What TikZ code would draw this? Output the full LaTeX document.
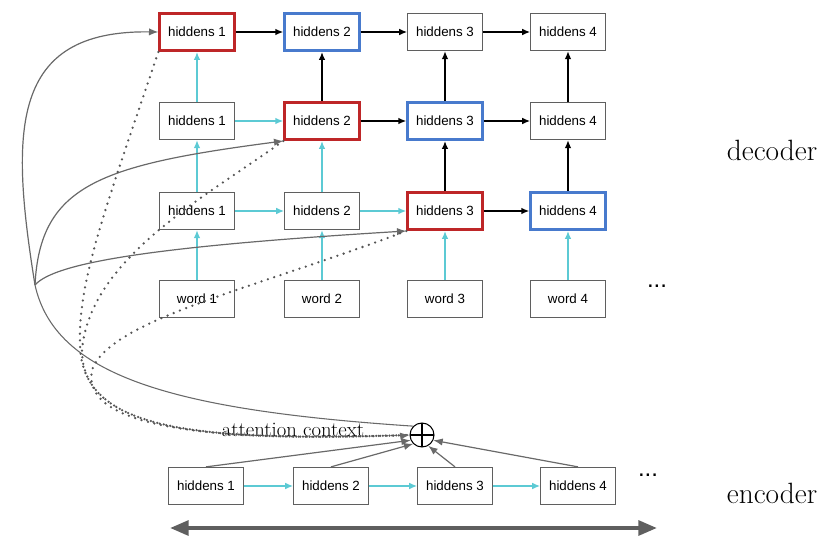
\documentclass[tikz,border=0pt]{standalone}
\usepackage{fontspec}
\setsansfont{Liberation Sans}
\usetikzlibrary{arrows.meta,calc}
\definecolor{RedClr}{RGB}{190,38,40}
\definecolor{BlueClr}{RGB}{72,122,205}
\definecolor{CyanClr}{RGB}{92,202,212}
\definecolor{BoxClr}{RGB}{95,95,95}
\definecolor{LineClr}{RGB}{105,105,105}
\definecolor{DotClr}{RGB}{85,85,85}

\begin{document}
\begin{tikzpicture}[x=0.75pt,y=-0.75pt,
  box/.style={draw=BoxClr,line width=0.7pt,minimum width=56pt,minimum height=28pt,inner sep=0pt,
    font=\sffamily\fontsize{10}{12}\selectfont},
  redbox/.style={box,draw=RedClr,line width=2pt},
  bluebox/.style={box,draw=BlueClr,line width=2pt},
  cyanarr/.style={-{Latex[length=6pt,width=5pt]},CyanClr,line width=1.1pt},
  blackarr/.style={-{Latex[length=6pt,width=5pt]},black,line width=1.1pt},
  grayarr/.style={-{Latex[length=7pt,width=5.5pt]},LineClr,line width=0.9pt},
  dotline/.style={DotClr,line width=1.9pt,line cap=round,dash pattern=on 0pt off 5pt},
  tag/.style={font=\fontsize{22}{24}\selectfont},
  more/.style={font=\sffamily\fontsize{18}{18}\selectfont}]
\useasboundingbox (0,0) rectangle (824,538);

% decoder
\node[redbox]  (hA1) at (197,32) {hiddens 1};
\node[bluebox] (hA2) at (322,32) {hiddens 2};
\node[box]     (hA3) at (445,32) {hiddens 3};
\node[box]     (hA4) at (568,32) {hiddens 4};

\node[box]     (hB1) at (197,121) {hiddens 1};
\node[redbox]  (hB2) at (322,121) {hiddens 2};
\node[bluebox] (hB3) at (445,121) {hiddens 3};
\node[box]     (hB4) at (568,121) {hiddens 4};

\node[box]     (hC1) at (197,211) {hiddens 1};
\node[box]     (hC2) at (322,211) {hiddens 2};
\node[redbox]  (hC3) at (445,211) {hiddens 3};
\node[bluebox] (hC4) at (568,211) {hiddens 4};

\node[box] (w1) at (197,299) {word 1};
\node[box] (w2) at (322,299) {word 2};
\node[box] (w3) at (445,299) {word 3};
\node[box] (w4) at (568,299) {word 4};
\node[more] (wdots) at (657,286) {...};

% encoder
\node[box] (e1) at (206,486) {hiddens 1};
\node[box] (e2) at (331,486) {hiddens 2};
\node[box] (e3) at (455,486) {hiddens 3};
\node[box] (e4) at (578,486) {hiddens 4};
\node[more] (edots) at (648,475) {...};

\node[circle,draw=black,line width=0.8pt,minimum size=18pt,inner sep=0pt,
  path picture={\draw[line width=0.8pt] (path picture bounding box.north) -- (path picture bounding box.south)
    (path picture bounding box.west) -- (path picture bounding box.east);}] (plus) at (422,435) {};

\node[tag] (dec) at (772,150) {decoder};
\node[tag] (enc) at (772,493) {encoder};
\node[font=\fontsize{15.5}{16}\selectfont] (att) at (293,430) {attention context};

% recurrent arrows
\draw[cyanarr] (w1) -- (hC1);
\draw[cyanarr] (w2) -- (hC2);
\draw[cyanarr] (w3) -- (hC3);
\draw[cyanarr] (w4) -- (hC4);
\draw[cyanarr] (hC1) -- (hB1);
\draw[cyanarr] (hB1) -- (hA1);
\draw[cyanarr] (hC2) -- (hB2);
\draw[blackarr] (hB2) -- (hA2);
\draw[blackarr] (hC3) -- (hB3);
\draw[blackarr] (hB3) -- (hA3);
\draw[blackarr] (hC4) -- (hB4);
\draw[blackarr] (hB4) -- (hA4);

\draw[cyanarr] (hC1) -- (hC2);
\draw[cyanarr] (hC2) -- (hC3);
\draw[blackarr] (hC3) -- (hC4);
\draw[cyanarr] (hB1) -- (hB2);
\draw[blackarr] (hB2) -- (hB3);
\draw[blackarr] (hB3) -- (hB4);
\draw[blackarr] (hA1) -- (hA2);
\draw[blackarr] (hA2) -- (hA3);
\draw[blackarr] (hA3) -- (hA4);

\draw[cyanarr] (e1) -- (e2);
\draw[cyanarr] (e2) -- (e3);
\draw[cyanarr] (e3) -- (e4);

% attention
\draw[grayarr] (e1.north) -- (plus.205);
\draw[grayarr] (e2.north) -- (plus.225);
\draw[grayarr] (e3.north) -- (plus.300);
\draw[grayarr] (e4.north) -- (plus.335);

\coordinate (split) at (35,285);
\draw[LineClr,line width=0.8pt] (plus.135) .. controls (170,410) and (55,375) .. (split);
\draw[grayarr] (split) .. controls (10,130) and (10,30) .. (hA1.west);
\draw[grayarr] (split) .. controls (40,185) and (100,165) .. (hB2.south west);
\draw[grayarr] (split) .. controls (55,262) and (160,246) .. (hC3.south west);

\draw[dotline] (hA1.south west) .. controls (105,210) and (78,280) .. (80,345)
  .. controls (82,430) and (190,442) .. (plus.west);
\draw[dotline] (hB2.south west) .. controls (200,200) and (90,260) .. (82,350)
  .. controls (82,430) and (200,442) .. (plus.west);
\draw[dotline] (hC3.south west) .. controls (250,290) and (110,320) .. (92,370)
  .. controls (80,430) and (220,442) .. (plus.west);
\draw[grayarr] ($(plus.west)+(-8,1)$) -- (plus.west);
% \draw[dotline] (att.east) -- (plus.west);

% time axis
\coordinate (tl) at (170,528);
\coordinate (tr) at (657,528);
\draw[{Triangle[length=14pt,width=11pt]}-{Triangle[length=14pt,width=11pt]},draw=BoxClr,fill=BoxClr,line width=3pt] (tl) -- (tr);
\end{tikzpicture}
\end{document}
